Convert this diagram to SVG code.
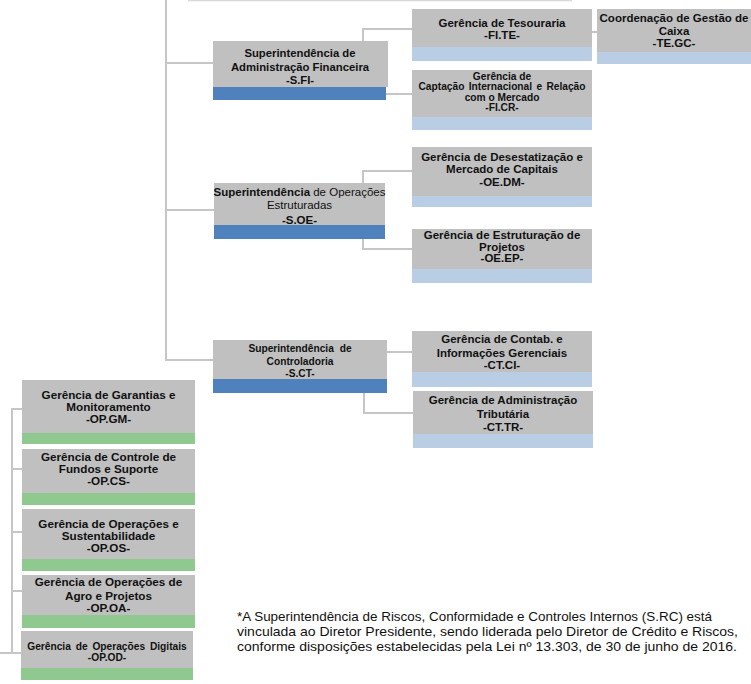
<svg xmlns="http://www.w3.org/2000/svg" width="751" height="684" viewBox="0 0 751 684">
<style>
.g{fill:#C0C0C0}
.db{fill:#4F81BD}
.lb{fill:#B9CDE5}
.gr{fill:#90C990}
text{font-family:"Liberation Sans",Arial,sans-serif;fill:#111;text-anchor:middle;font-weight:bold}
.f11{font-size:11.3px}
.f10{font-size:11.5px}
.fl{font-size:11.7px}
.f9{font-size:10.2px}
.n{font-weight:normal}
.c{fill:none;stroke:#C6C6C6;stroke-width:2}
.note{font-size:13px;font-weight:normal;text-anchor:start}
</style>
<rect width="751" height="684" fill="#fff"/>
<g id="connectors">
<path d="M188,0.5 H572" fill="none" stroke="#D9D9D9" stroke-width="1.5"/>
<path class="c" d="M166,0 V360 H213 M166,63 H213 M166,210 H214"/>
<path class="c" d="M412,29 H363 V41 M386,94 H412 M592,32 H597"/>
<path class="c" d="M412,171 H363 V183 M363,239 V249 H412"/>
<path class="c" d="M387,352 H412 M364,393 V413 H413"/>
<path class="c" d="M22,409 H12 V653 M12,469 H22 M12,532 H22 M12,591 H22 M0,653 H21"/>
</g>
<g id="S.FI">
<rect class="g" x="213" y="41" width="175" height="46"/>
<rect class="db" x="213" y="87" width="173" height="13"/>
<text class="f11" x="300" y="57">Superintendência de</text>
<text class="f11" x="300" y="70.5">Administração Financeira</text>
<text class="f11" x="300" y="84">-S.FI-</text>
</g>
<g id="S.OE">
<rect class="g" x="214" y="183" width="171" height="42"/>
<rect class="db" x="214" y="225" width="171" height="14"/>
<text class="f10" x="299.5" y="196">Superintendência <tspan class="n">de Operações</tspan></text>
<text class="f10 n" x="299.5" y="209">Estruturadas</text>
<text class="f10" x="299.5" y="224">-S.OE-</text>
</g>
<g id="S.CT">
<rect class="g" x="213" y="340" width="174" height="39"/>
<rect class="db" x="213" y="379" width="174" height="14"/>
<text class="f9" x="300" y="351.5" word-spacing="3">Superintendência de</text>
<text class="f9" x="300" y="365">Controladoria</text>
<text class="f9" x="300" y="376.5">-S.CT-</text>
</g>
<g id="FI.TE">
<rect class="g" x="412" y="9" width="180" height="38"/>
<rect class="lb" x="412" y="47" width="180" height="14"/>
<text class="f10" x="502" y="27">Gerência de Tesouraria</text>
<text class="f10" x="502" y="38.5">-FI.TE-</text>
</g>
<g id="TE.GC">
<rect class="g" x="597" y="9" width="154" height="43"/>
<rect class="lb" x="597" y="52" width="154" height="12"/>
<text class="f10" x="674" y="22">Coordenação de Gestão de</text>
<text class="f10" x="674" y="35">Caixa</text>
<text class="f10" x="674" y="47">-TE.GC-</text>
</g>
<g id="FI.CR">
<rect class="g" x="412" y="70" width="180" height="47"/>
<rect class="lb" x="412" y="117" width="180" height="13"/>
<text class="f9" x="502" y="79.5">Gerência de</text>
<text class="f9" x="502" y="89.5" word-spacing="1.5">Captação Internacional e Relação</text>
<text class="f9" x="502" y="100.5">com o Mercado</text>
<text class="f9" x="502" y="111">-FI.CR-</text>
</g>
<g id="OE.DM">
<rect class="g" x="412" y="147" width="180" height="49"/>
<rect class="lb" x="412" y="196" width="180" height="11"/>
<text class="f10" x="502" y="161">Gerência de Desestatização e</text>
<text class="f10" x="502" y="173">Mercado de Capitais</text>
<text class="f10" x="502" y="185.5">-OE.DM-</text>
</g>
<g id="OE.EP">
<rect class="g" x="412" y="229" width="180" height="40"/>
<rect class="lb" x="412" y="269" width="180" height="14"/>
<text class="f10" x="502" y="238.5">Gerência de Estruturação de</text>
<text class="f10" x="502" y="250.5">Projetos</text>
<text class="f10" x="502" y="262">-OE.EP-</text>
</g>
<g id="CT.CI">
<rect class="g" x="412" y="331" width="180" height="41"/>
<rect class="lb" x="412" y="372" width="180" height="15"/>
<text class="f10" x="502" y="343">Gerência de Contab. e</text>
<text class="f10" x="502" y="357">Informações Gerenciais</text>
<text class="f10" x="502" y="369">-CT.CI-</text>
</g>
<g id="CT.TR">
<rect class="g" x="413" y="391" width="180" height="43"/>
<rect class="lb" x="413" y="434" width="180" height="14"/>
<text class="f10" x="503" y="404">Gerência de Administração</text>
<text class="f10" x="503" y="418">Tributária</text>
<text class="f10" x="503" y="431">-CT.TR-</text>
</g>
<g id="OP.GM">
<rect class="g" x="22" y="380" width="173" height="53"/>
<rect class="gr" x="22" y="433" width="173" height="11"/>
<text class="fl" x="108.5" y="398.5">Gerência de Garantias e</text>
<text class="fl" x="108.5" y="410.5">Monitoramento</text>
<text class="fl" x="108.5" y="422.5">-OP.GM-</text>
</g>
<g id="OP.CS">
<rect class="g" x="22" y="449" width="173" height="44"/>
<rect class="gr" x="22" y="493" width="173" height="12"/>
<text class="fl" x="108.5" y="461">Gerência de Controle de</text>
<text class="fl" x="108.5" y="473">Fundos e Suporte</text>
<text class="fl" x="108.5" y="485">-OP.CS-</text>
</g>
<g id="OP.OS">
<rect class="g" x="22" y="509" width="173" height="50"/>
<rect class="gr" x="22" y="559" width="173" height="12"/>
<text class="fl" x="108.5" y="528">Gerência de Operações e</text>
<text class="fl" x="108.5" y="540">Sustentabilidade</text>
<text class="fl" x="108.5" y="552">-OP.OS-</text>
</g>
<g id="OP.OA">
<rect class="g" x="22" y="575" width="173" height="40"/>
<rect class="gr" x="22" y="615" width="173" height="13"/>
<text class="fl" x="108.5" y="586">Gerência de Operações de</text>
<text class="fl" x="108.5" y="600">Agro e Projetos</text>
<text class="fl" x="108.5" y="612">-OP.OA-</text>
</g>
<g id="OP.OD">
<rect class="g" x="21" y="631" width="172" height="37"/>
<rect class="gr" x="21" y="668" width="172" height="12"/>
<text class="f9" x="107" y="650" word-spacing="2">Gerência de Operações Digitais</text>
<text class="f9" x="107" y="661">-OP.OD-</text>
</g>
<g id="note">
<text class="note" x="237" y="621" textLength="475" lengthAdjust="spacingAndGlyphs">*A Superintendência de Riscos, Conformidade e Controles Internos (S.RC) está</text>
<text class="note" x="237" y="636" textLength="501" lengthAdjust="spacingAndGlyphs">vinculada ao Diretor Presidente, sendo liderada pelo Diretor de Crédito e Riscos,</text>
<text class="note" x="237" y="651" textLength="500" lengthAdjust="spacingAndGlyphs">conforme disposições estabelecidas pela Lei nº 13.303, de 30 de junho de 2016.</text>
</g>
</svg>
